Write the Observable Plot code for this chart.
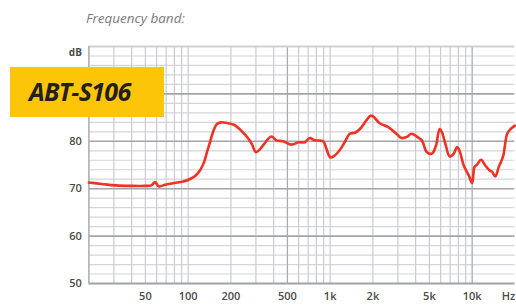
<!DOCTYPE html>
<html>
<head>
<meta charset="utf-8">
<script src="https://cdn.jsdelivr.net/npm/d3@7"></script>
<script src="https://cdn.jsdelivr.net/npm/@observablehq/plot@0.6"></script>
<style>
  html, body { margin: 0; padding: 0; background: #fff; }
  #wrap { position: relative; width: 516px; height: 308px; overflow: hidden; }
  #title { position: absolute; left: 86px; top: 9px; font-family: "Open Sans", sans-serif; font-style: italic; font-size: 13.5px; color: #7a7a7a; white-space: nowrap; }
  #badge { position: absolute; left: 10px; top: 67px; width: 154px; height: 50px; background: #fcc507; }
  #badge span { position: absolute; left: 19px; top: 7px; font-family: "Open Sans", sans-serif; font-weight: 700; font-style: italic; font-size: 25px; color: #231f20; letter-spacing: -0.7px; white-space: nowrap; }
  #chart { position: absolute; left: 0; top: 0; }
</style>
</head>
<body>
<div id="wrap">
  <div id="chart"></div>
  <div id="title">Frequency band:</div>
  <div id="badge"><span>ABT-S106</span></div>
</div>
<script>
// Frequency response (Hz, dB)
const freqHz = [20, 24.6, 31, 40, 50, 55, 58.5, 62, 70, 80, 92, 104, 113, 122, 129, 136, 143, 151, 160, 170, 185, 210, 230, 260, 280, 300, 320, 340, 385, 418, 466, 535, 600, 664, 718, 780, 893, 942, 1004, 1077, 1166, 1265, 1376, 1494, 1621, 1797, 1924, 2019, 2232, 2563, 2932, 3180, 3453, 3749, 4071, 4420, 4800, 5212, 5560, 5902, 6130, 6475, 6950, 7420, 7822, 8123, 8726, 9468, 10000, 10390, 10840, 11560, 12380, 13200, 13800, 14560, 15400, 16510, 17650, 18670, 20000];
const levelDb = [71.3, 71.0, 70.7, 70.6, 70.6, 70.7, 71.4, 70.5, 70.9, 71.2, 71.5, 72.1, 72.8, 74.0, 75.5, 77.8, 80.0, 82.3, 83.7, 84.0, 83.9, 83.5, 82.6, 80.9, 79.5, 77.7, 78.3, 79.3, 81.0, 80.2, 80.0, 79.3, 79.8, 79.8, 80.7, 80.2, 80.0, 78.4, 76.6, 77.0, 78.1, 79.8, 81.6, 81.8, 82.6, 84.4, 85.4, 85.2, 83.8, 83.0, 81.6, 80.7, 80.9, 81.6, 81.0, 80.2, 77.7, 77.4, 79.1, 82.6, 81.9, 79.5, 76.8, 77.4, 78.8, 78.1, 74.9, 72.8, 71.2, 74.6, 75.1, 76.1, 74.9, 73.9, 73.6, 72.6, 74.6, 76.8, 81.6, 82.6, 83.3];

// Axis ticks and labels
const xTickValues = [50, 100, 200, 500, 1000, 2000, 5000, 10000, 18000];
const xTickLabels = ["50", "100", "200", "500", "1k", "2k", "5k", "10k", "Hz"];
const yTickValues = [50, 60, 70, 80];
const yUnitLabel = ["dB"];

// Grid values
const xGridLight = [30, 40, 50, 60, 70, 80, 90, 100, 200, 300, 400, 600, 700, 800, 900, 1000, 2000, 3000, 4000, 5000, 6000, 7000, 8000, 9000];
const xGridDark = [500, 10000];
const yGridMinor = [52, 54, 56, 58, 62, 64, 66, 68, 72, 74, 76, 78, 82, 84, 86, 88, 92, 94, 96, 98];
const yGridMajor = [60, 70, 80, 90];

const data = freqHz.map((f, i) => ({f, db: levelDb[i]}));
const xLabels = xTickValues.map((v, i) => ({v, t: xTickLabels[i]}));

const chart = Plot.plot({
  width: 516,
  height: 308,
  marginTop: 46,
  marginBottom: 25,
  marginLeft: 88.4,
  marginRight: 1.6,
  style: {fontFamily: "'Open Sans', sans-serif", fontSize: "11px", fontWeight: 600, color: "#4a4a4a", background: "transparent"},
  x: {type: "log", domain: [20, 20000], label: null, axis: null},
  y: {domain: [50, 100], label: null, axis: null},
  marks: [
    Plot.ruleY(yGridMinor, {stroke: "#d4d5d9", strokeWidth: 1.2}),
    Plot.ruleX(xGridLight, {stroke: "#c9cbd1", strokeWidth: 1.2}),
    Plot.ruleX(xGridDark, {stroke: "#a9abb1", strokeWidth: 1.3}),
    Plot.ruleY(yGridMajor, {stroke: "#a3a4a8", strokeWidth: 1.6}),
    Plot.ruleY([100], {stroke: "#cfd0d4", strokeWidth: 2}),
    Plot.ruleX([20], {stroke: "#aeb0b5", strokeWidth: 1.6}),
    Plot.ruleY([50], {stroke: "#a0a1a5", strokeWidth: 2}),
    Plot.line(data, {x: "f", y: "db", stroke: "#ee3324", strokeWidth: 2.6, curve: "catmull-rom"}),
    Plot.axisY({ticks: yTickValues, tickSize: 0, tickPadding: 7, label: null}),
    Plot.text(yUnitLabel, {x: () => 20, y: () => 100, text: d => d, textAnchor: "end", dx: -7, dy: 6, fontWeight: 700, fontSize: 10, fill: "#4a4a4a"}),
    Plot.text(xLabels, {x: "v", text: "t", frameAnchor: "bottom", lineAnchor: "top", dy: 9, fill: "#4a4a4a"})
  ]
});
document.getElementById("chart").appendChild(chart);
</script>
</body>
</html>
